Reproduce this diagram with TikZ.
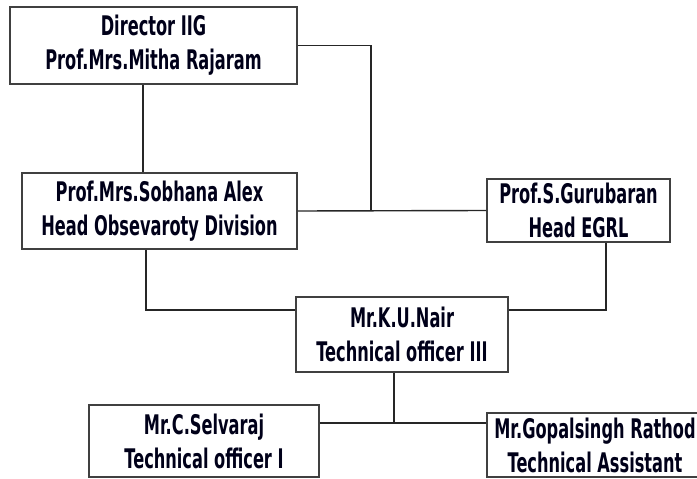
\documentclass[tikz,border=0pt]{standalone}
\usepackage{fontspec}
\newfontfamily\orgfont{DejaVu Sans}[FakeStretch=0.6]
\usetikzlibrary{calc}
\tikzset{
	post/.style={draw=black!75, line width=1.6pt, align=center, inner sep=0pt,
		font=\orgfont\bfseries\fontsize{27}{34}\selectfont, text=black!90!blue},
	link/.style={draw=black!85, line width=1.4pt}
}

\begin{document}
\begin{tikzpicture}[x=1pt, y=-1pt]
			%%%%% START %%%%%
			\useasboundingbox (0, 0) rectangle (697, 479);
			
			\node[post, minimum width=287pt, minimum height=77pt] (dir) at (153.5, 45.5) {Director IIG\\Prof.Mrs.Mitha Rajaram};
			\node[post, minimum width=275pt, minimum height=76pt] (sob) at (159.5, 211) {Prof.Mrs.Sobhana Alex\\Head Obsevaroty Division};
			\node[post, minimum width=183pt, minimum height=63pt] (guru) at (578.5, 210.5) {Prof.S.Gurubaran\\Head EGRL};
			\node[post, minimum width=212pt, minimum height=75pt] (nair) at (402, 334.5) {Mr.K.U.Nair\\Technical officer III};
			\node[post, minimum width=230pt, minimum height=72pt] (sel) at (204, 441) {Mr.C.Selvaraj\\Technical officer I};
			\node[post, minimum width=216pt, minimum height=64pt] (gop) at (595, 445) {Mr.Gopalsingh Rathod\\Technical Assistant};
			
			\coordinate (top) at (371, 210.5);
			\coordinate (mid) at (0, 310);
			\coordinate (low) at (394, 423);
			
			\draw[link] ([xshift=-10.5pt]dir.south) -- ([xshift=-10.5pt]dir.south |- sob.north);
			\draw[link] (dir.east) -| (top);
			\draw[link] (sob.east) -- (guru.west);
			
			\draw[link] ([xshift=-13.5pt]sob.south) |- (nair.west |- mid);
			\draw[link] ([xshift=27.5pt]guru.south) |- (nair.east |- mid);
			
			\draw[link] ([xshift=-8pt]nair.south) -- (low);
			\draw[link] (sel.east |- low) -- (gop.west |- low);
			%%%%% END %%%%%
\end{tikzpicture}
\end{document}
